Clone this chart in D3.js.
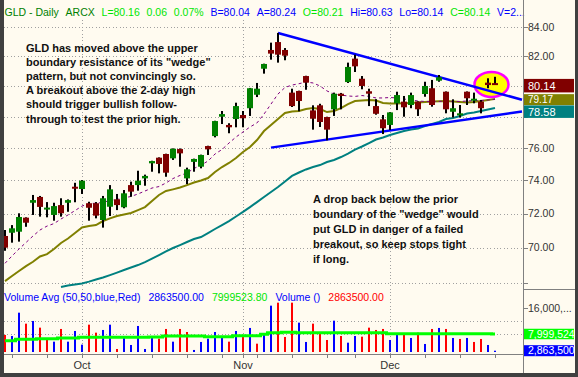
<!DOCTYPE html>
<html>
<head>
<meta charset="utf-8">
<script src="https://cdn.jsdelivr.net/npm/d3@7"></script>
<style>
  html, body { margin: 0; padding: 0; background: #fffbf0; }
  svg { display: block; font-family: "Liberation Sans", Arial, sans-serif; }
</style>
</head>
<body>
<div id="chart"></div>
<script>
// Trading days on the chart (GLD daily, Sep - Dec 2007)
const dates = [
  "2007-09-14","2007-09-17","2007-09-18","2007-09-19","2007-09-20","2007-09-21","2007-09-24","2007-09-25","2007-09-26","2007-09-27","2007-09-28",
  "2007-10-01","2007-10-02","2007-10-03","2007-10-04","2007-10-05","2007-10-08","2007-10-09","2007-10-10","2007-10-11","2007-10-12",
  "2007-10-15","2007-10-16","2007-10-17","2007-10-18","2007-10-19","2007-10-22","2007-10-23","2007-10-24","2007-10-25","2007-10-26",
  "2007-10-29","2007-10-30","2007-10-31",
  "2007-11-01","2007-11-02","2007-11-05","2007-11-06","2007-11-07","2007-11-08","2007-11-09","2007-11-12","2007-11-13","2007-11-14",
  "2007-11-15","2007-11-16","2007-11-19","2007-11-20","2007-11-21","2007-11-23","2007-11-26","2007-11-27","2007-11-28","2007-11-29","2007-11-30",
  "2007-12-03","2007-12-04","2007-12-05","2007-12-06","2007-12-07","2007-12-10","2007-12-11","2007-12-12","2007-12-13","2007-12-14",
  "2007-12-17","2007-12-18","2007-12-19","2007-12-20","2007-12-21","2007-12-24"
];

const open = [70.68,70.87,70.93,71.76,72.65,73.00,72.24,71.92,72.51,72.65,
  73.62,73.48,72.62,72.62,71.62,72.41,72.86,72.38,73.72,73.72,
  74.13,75.06,75.41,75.64,75.37,75.95,74.13,75.15,74.85,76.14,
  76.77,78.01,77.48,77.86,78.12,78.56,79.44,81.17,82.44,82.98,
  82.44,79.58,79.69,80.68,78.42,78.75,77.99,78.49,79.51,80.28,
  81.85,80.50,79.67,78.70,77.84,77.48,78.88,78.99,78.77,78.99,
  79.49,79.87,80.37,79.64,78.33,78.10,79.64,79.05,78.99,80.24,
  80.21];
const high = [71.03,71.32,72.02,71.78,73.12,73.06,72.69,72.65,72.92,72.85,
  73.86,74.03,72.71,72.69,73.06,73.72,73.18,73.42,73.93,74.60,
  74.36,75.22,75.43,75.66,75.99,75.99,74.79,75.35,75.60,76.16,
  77.75,78.38,77.59,78.92,78.38,79.89,80.22,81.51,82.94,83.61,
  82.57,79.84,79.71,80.70,78.75,78.85,78.01,79.58,79.56,81.58,
  82.12,80.68,79.84,79.15,78.12,78.31,79.64,79.36,79.58,79.01,
  80.30,80.42,80.75,79.66,79.14,78.77,79.66,79.58,79.10,80.53,
  80.63];
const low = [69.82,70.29,70.35,71.22,71.92,71.82,71.78,71.58,71.82,72.11,
  72.68,73.18,71.58,71.72,71.17,71.86,72.21,72.32,73.01,73.38,
  73.68,74.54,74.44,74.23,75.27,74.85,73.78,74.54,74.75,75.58,
  76.69,77.54,76.95,77.33,77.33,78.06,79.29,80.84,81.78,81.58,
  81.74,78.64,78.36,79.77,77.18,77.35,76.50,78.06,78.49,80.22,
  80.95,79.80,78.70,78.14,76.90,77.16,78.44,78.01,78.56,78.06,
  79.31,78.66,80.30,78.23,77.96,77.96,78.77,78.88,78.23,79.87,
  80.14];
const close = [70.00,71.13,71.80,71.46,72.81,72.40,72.36,72.45,72.02,72.81,
  73.50,73.99,72.35,71.88,72.92,73.46,72.51,73.22,73.32,73.99,
  74.28,75.20,75.02,74.48,75.97,75.68,74.69,75.33,75.58,75.93,
  77.73,78.18,77.33,78.70,77.91,79.87,79.84,81.49,82.19,82.12,
  82.05,78.70,79.03,80.24,77.88,77.67,77.18,79.51,79.36,81.29,
  81.33,80.02,79.51,78.20,77.27,78.29,79.42,78.62,79.42,78.49,
  80.02,78.77,80.60,78.49,78.56,78.23,79.21,79.18,78.56,80.08,
  80.14];

// moving averages
const ma10 = [69.10,69.52,69.92,70.30,70.68,71.03,71.26,71.41,71.68,71.92,
  72.18,72.45,72.60,72.62,72.67,72.79,72.85,72.94,73.03,73.18,
  73.36,73.54,73.63,73.85,74.12,74.31,74.46,74.74,74.95,75.20,
  75.64,75.92,76.33,76.71,77.03,77.35,77.61,78.18,78.83,79.49,
  79.92,80.08,80.17,80.28,80.22,80.02,79.69,79.49,79.42,79.36,
  79.33,79.39,79.33,79.23,79.23,79.26,79.23,79.16,79.10,79.03,
  79.00,78.99,79.00,79.03,79.00,79.00,79.03,79.06,79.06,79.10,
  79.13];
const ma20 = [68.09,68.38,68.66,68.94,69.19,69.49,69.63,69.92,70.27,70.53,
  70.85,71.18,71.26,71.32,71.56,71.72,71.86,71.95,72.04,72.21,
  72.39,72.75,73.12,73.36,73.46,73.57,73.72,73.88,74.00,74.15,
  74.52,74.83,75.08,75.39,75.77,76.08,76.52,77.09,77.48,77.86,
  78.25,78.35,78.38,78.51,78.57,78.51,78.31,78.38,78.57,78.83,
  79.03,79.06,79.10,79.06,78.90,78.87,78.87,78.88,78.90,78.93,
  78.97,79.00,79.01,79.03,79.00,78.97,78.93,78.97,79.03,79.10,
  79.17];
const ma50 = [null,null,null,null,null,null,null,null,67.76,67.84,
  67.90,67.96,68.06,68.18,68.29,68.43,68.57,68.72,68.86,69.00,
  69.17,69.37,69.57,69.78,69.98,70.15,70.33,70.50,70.62,70.85,
  71.09,71.32,71.56,71.83,72.10,72.39,72.69,73.00,73.30,73.60,
  73.94,74.28,74.49,74.68,74.83,74.95,75.14,75.27,75.45,75.67,
  75.92,76.11,76.33,76.55,76.68,76.84,76.97,77.09,77.19,77.25,
  77.41,77.54,77.67,77.86,77.93,78.06,78.22,78.28,78.38,78.48,
  78.58];

// volume in millions of shares, and its 50-day average
const volume = [7.70,7.39,14.56,11.18,12.01,9.95,6.47,5.64,9.55,5.64,
  8.93,4.72,10.87,8.41,9.24,10.87,3.39,7.39,4.62,10.47,
  3.39,6.87,6.56,9.55,5.64,9.55,8.62,3.09,5.55,6.56,
  8.62,6.87,5.64,8.93,7.70,9.86,5.02,7.70,16.72,17.64,
  7.09,17.64,11.49,5.55,11.18,8.10,6.16,12.10,7.39,5.33,
  7.39,7.18,9.95,9.24,9.55,6.16,7.70,7.79,6.78,8.41,
  4.93,9.55,9.86,9.55,6.78,6.47,6.78,5.55,6.47,4.62,
  2.8635];
const volumeAvg = [5.94,5.94,6.37,6.37,6.37,6.55,6.55,6.55,6.77,6.77,
  6.77,6.98,6.98,6.98,6.98,6.98,6.98,6.98,6.98,6.98,
  6.98,7.08,7.08,7.38,7.38,7.38,7.38,7.38,7.38,7.17,
  7.17,7.17,7.17,7.48,7.48,7.48,7.48,7.91,8.40,8.40,
  8.52,8.52,8.40,8.40,8.40,8.40,8.40,8.40,8.40,8.40,
  8.40,8.40,8.40,8.40,8.40,8.05,8.05,8.05,8.05,8.05,
  8.05,8.05,8.05,8.05,8.05,8.05,8.05,8.05,8.05,8.05,
  7.9995238];

const priceTicks = [68, 70, 72, 74, 76, 78, 80, 82, 84];
const volumeTicks = [16e6];
const volumeGrid = [8e6, 12e6];

// wedge lines as [bar index, price] anchors
const upperWedge = [[39, 83.6], [70, 79.6]];
const lowerWedge = [[38, 76.04], [70, 78.1]];

const noteTop = [
  "GLD has moved above the upper",
  "boundary resistance of its \"wedge\"",
  "pattern, but not convincingly so.",
  "A breakout above the 2-day high",
  "should trigger bullish follow-",
  "through to test the prior high."
];
const noteBottom = [
  "A drop back below the prior",
  "boundary of the \"wedge\" would",
  "put GLD in danger of a failed",
  "breakout, so keep stops tight",
  "if long."
];

// ---- drawing ----
const W = 578, H = 377;
const plotL = 4, plotR = 523, priceTop = 20, priceBot = 288, volTop = 289, volBot = 354, volBase = 352;
const n = dates.length, last = n - 1;
const parse = d3.timeParse("%Y-%m-%d");
const days = dates.map(parse);

const cream = "#fffbf0", frame = "#404040", axisGray = "#808080", gridGray = "#a0a0a0";
const upColor = "#008000", downColor = "#800000";
const lime = "#00e600", blue = "#0000ff", darkGreen = "#008000";

const x = d3.scaleLinear().domain([0, last]).range([5, 495]);
const y = d3.scaleLog().domain([68, 84]).range([282.7, 27.3]);
const yv = d3.scaleLinear().domain([0, 16e6]).range([360, 308]);

const svg = d3.select("#chart").append("svg")
  .attr("width", W).attr("height", H);

svg.append("rect").attr("width", W).attr("height", H).attr("fill", cream);

const defs = svg.append("defs");
defs.append("clipPath").attr("id", "clipPrice").append("rect")
  .attr("x", plotL).attr("y", priceTop).attr("width", plotR - plotL).attr("height", priceBot - priceTop);
defs.append("clipPath").attr("id", "clipVol").append("rect")
  .attr("x", plotL).attr("y", volTop).attr("width", plotR - plotL).attr("height", volBot - volTop);

// month starts and weekly ticks
const monthStarts = d3.range(1, n).filter(i => days[i].getMonth() !== days[i - 1].getMonth());
const weekTicks = d3.range(n).filter(i => days[i].getDay() === 1 || monthStarts.includes(i));

// grid
const grid = svg.append("g")
  .attr("stroke", gridGray).attr("stroke-dasharray", "1,2.4").attr("shape-rendering", "crispEdges");
grid.selectAll(".hp").data(priceTicks).join("line")
  .attr("x1", plotL).attr("x2", plotR)
  .attr("y1", d => Math.round(y(d)) + 0.5).attr("y2", d => Math.round(y(d)) + 0.5);
grid.selectAll(".hv").data(volumeGrid).join("line")
  .attr("x1", plotL).attr("x2", plotR)
  .attr("y1", d => Math.round(yv(d)) + 0.5).attr("y2", d => Math.round(yv(d)) + 0.5);
grid.selectAll(".vm").data(monthStarts).join("line")
  .attr("x1", i => x(i) + 0.5).attr("x2", i => x(i) + 0.5)
  .attr("y1", priceTop).attr("y2", volBot);

// price panel
const price = svg.append("g").attr("clip-path", "url(#clipPrice)");

const maLine = arr => d3.line()
  .defined(i => arr[i] != null)
  .x(i => x(i)).y(i => y(arr[i]))(d3.range(n));

price.append("path").attr("d", maLine(ma50))
  .attr("fill", "none").attr("stroke", "#008080").attr("stroke-width", 2);
price.append("path").attr("d", maLine(ma20))
  .attr("fill", "none").attr("stroke", "#808000").attr("stroke-width", 2);
price.append("path").attr("d", maLine(ma10))
  .attr("fill", "none").attr("stroke", "#800080").attr("stroke-width", 1)
  .attr("stroke-dasharray", "3,3");

// highlight around the last two bars
price.append("ellipse")
  .attr("cx", x(last - 0.5)).attr("cy", y(80.12))
  .attr("rx", 17).attr("ry", 12.5)
  .attr("fill", "#ffff00").attr("stroke", "#ff00ff").attr("stroke-width", 2.5);

// wedge lines, extended to the price axis
function wedge(anchors) {
  const [a, b] = anchors;
  const x1 = x(a[0]), y1 = y(a[1]), x2 = x(b[0]), y2 = y(b[1]);
  const xe = plotR - 1;
  return [[x1, y1], [xe, y1 + (y2 - y1) * (xe - x1) / (x2 - x1)]];
}
[upperWedge, lowerWedge].forEach(w => {
  price.append("path").attr("d", d3.line()(wedge(w)))
    .attr("stroke", "#0000ff").attr("stroke-width", 2.5).attr("fill", "none");
});

// candles
const candles = price.selectAll(".candle").data(d3.range(n)).join("g");
candles.append("rect")
  .attr("x", i => x(i) - 1).attr("width", 2)
  .attr("y", i => y(high[i])).attr("height", i => Math.max(1, y(low[i]) - y(high[i])))
  .attr("fill", "#000");
candles.append("rect")
  .attr("x", i => x(i) - 3).attr("width", 6)
  .attr("y", i => y(Math.max(open[i], close[i])))
  .attr("height", i => Math.max(2, Math.abs(y(open[i]) - y(close[i]))))
  .attr("fill", i => close[i] >= open[i] ? upColor : downColor);

// notes
function note(lines, x0, y0, step) {
  svg.append("text")
    .attr("font-size", "11px").attr("font-weight", "bold").attr("fill", "#111")
    .selectAll("tspan").data(lines).join("tspan")
    .attr("x", x0).attr("y", (d, k) => y0 + k * step)
    .text(d => d);
}
note(noteTop, 26, 51.5, 14.2);
note(noteBottom, 313, 202.5, 15);

// volume panel
const vol = svg.append("g").attr("clip-path", "url(#clipVol)");
vol.selectAll(".vbar").data(d3.range(n)).join("rect")
  .attr("x", i => x(i) - 1).attr("width", 2)
  .attr("y", i => Math.min(volBase - 1, yv(volume[i] * 1e6)))
  .attr("height", i => Math.max(1, volBase - yv(volume[i] * 1e6)))
  .attr("fill", i => {
    const prev = i > 0 ? close[i - 1] : open[i];
    return close[i] > prev ? "#0000ff" : "#ff0000";
  });
vol.append("path")
  .attr("d", d3.line().curve(d3.curveStep).x(i => x(i)).y(i => yv(volumeAvg[i] * 1e6))(d3.range(n)))
  .attr("fill", "none").attr("stroke", "#00ff00").attr("stroke-width", 3);

// panel headers
function headerRow(items, x0, yBase, gap, size) {
  let cx = x0;
  items.forEach(it => {
    const t = svg.append("text").attr("x", cx).attr("y", yBase)
      .attr("font-size", size).attr("fill", it.c).text(it.t);
    cx += t.node().getComputedTextLength() + gap;
  });
}
const f2 = v => v.toFixed(2);
headerRow([
  { t: "GLD - Daily", c: darkGreen }, { t: "ARCX", c: darkGreen },
  { t: "L=80.16", c: lime }, { t: "0.06", c: lime }, { t: "0.07%", c: lime },
  { t: "B=80.04", c: blue }, { t: "A=80.24", c: blue },
  { t: "O=" + f2(open[last]), c: lime },
  { t: "Hi=" + f2(high[last]), c: blue }, { t: "Lo=" + f2(low[last]), c: blue },
  { t: "C=" + f2(close[last]), c: lime }, { t: "V=2...", c: blue }
], 4.5, 15.5, 6.8, "10.5px");

headerRow([
  { t: "Volume Avg (50,50,blue,Red)", c: blue },
  { t: (volume[last] * 1e6).toFixed(2), c: blue },
  { t: (volumeAvg[last] * 1e6).toFixed(2), c: lime },
  { t: "Volume ()", c: blue },
  { t: (volume[last] * 1e6).toFixed(2), c: "#ff0000" }
], 4, 301, 8, "10.5px");

// right axis
const axisG = svg.append("g").attr("shape-rendering", "crispEdges");
axisG.append("line").attr("x1", plotR + 0.5).attr("x2", plotR + 0.5).attr("y1", 0).attr("y2", 373)
  .attr("stroke", axisGray);
axisG.append("line").attr("x1", plotR).attr("x2", W).attr("y1", volTop + 0.5).attr("y2", volTop + 0.5)
  .attr("stroke", axisGray);
axisG.selectAll(".pt").data(priceTicks).join("line")
  .attr("x1", plotR).attr("x2", plotR + 5)
  .attr("y1", d => Math.round(y(d)) + 0.5).attr("y2", d => Math.round(y(d)) + 0.5)
  .attr("stroke", axisGray);
// 80 and 78 sit under the value tags, so only the free levels get a label
const tagged = [78, 80];
svg.selectAll(".pl").data(priceTicks.filter(d => d > 68 && !tagged.includes(d))).join("text")
  .attr("x", plotR + 5).attr("y", d => y(d)).attr("dy", "0.36em")
  .attr("font-size", "10.5px").attr("fill", "#333")
  .text(d => d.toFixed(2));
axisG.selectAll(".vt").data(volumeTicks).join("line")
  .attr("x1", plotR).attr("x2", plotR + 5)
  .attr("y1", d => Math.round(yv(d)) + 0.5).attr("y2", d => Math.round(yv(d)) + 0.5)
  .attr("stroke", axisGray);
svg.selectAll(".vl").data(volumeTicks).join("text")
  .attr("x", plotR + 5).attr("y", d => yv(d)).attr("dy", "0.36em")
  .attr("font-size", "10.5px").attr("fill", "#333")
  .text(d => d3.format(",")(d).slice(0, 7) + "...");

// value tags on the axis
function tag(yc, fill, label, h, size) {
  const g = svg.append("g");
  g.append("rect").attr("x", plotR + 1).attr("y", yc - h / 2).attr("width", 50).attr("height", h)
    .attr("fill", fill);
  g.append("text").attr("x", plotR + 5).attr("y", yc).attr("dy", "0.35em")
    .attr("font-size", size).attr("fill", "#fff").text(label);
}
const tag1 = y(close[last]) + 1.5;
tag(tag1, "#800000", f2(close[last]), 13.5, "11px");
const tag2 = Math.max(y(ma20[last]), tag1 + 14);
tag(tag2, "#808000", f2(ma20[last]), 11, "10px");
const tag3 = Math.max(y(ma50[last]), tag2 + 12);
tag(tag3, "#008080", f2(ma50[last]), 12.5, "11px");
tag(yv(volumeAvg[last] * 1e6), "#00ff00", d3.format(",.0f")(volumeAvg[last] * 1e6), 10.5, "10.5px");
tag(Math.min(yv(volume[last] * 1e6), 351.5), "#0000ff", d3.format(",.0f")(volume[last] * 1e6), 11, "10.5px");

// bottom date axis
axisG.append("line").attr("x1", plotL).attr("x2", plotR).attr("y1", volBot + 0.5).attr("y2", volBot + 0.5)
  .attr("stroke", axisGray);
axisG.selectAll(".wt").data(weekTicks).join("line")
  .attr("x1", i => Math.round(x(i)) + 0.5).attr("x2", i => Math.round(x(i)) + 0.5)
  .attr("y1", volBot).attr("y2", volBot + 4)
  .attr("stroke", axisGray);
svg.selectAll(".ml").data(monthStarts).join("text")
  .attr("x", i => x(i)).attr("y", 369)
  .attr("text-anchor", "middle").attr("font-size", "11px").attr("fill", "#333")
  .text(i => d3.timeFormat("%b")(days[i]));

// window frame
svg.append("rect").attr("x", 0).attr("y", 0).attr("width", 4).attr("height", H).attr("fill", frame);
svg.append("rect").attr("x", 0).attr("y", 373).attr("width", W).attr("height", 4).attr("fill", frame);
svg.append("rect").attr("x", 575).attr("y", 0).attr("width", 3).attr("height", H).attr("fill", frame);
</script>
</body>
</html>
